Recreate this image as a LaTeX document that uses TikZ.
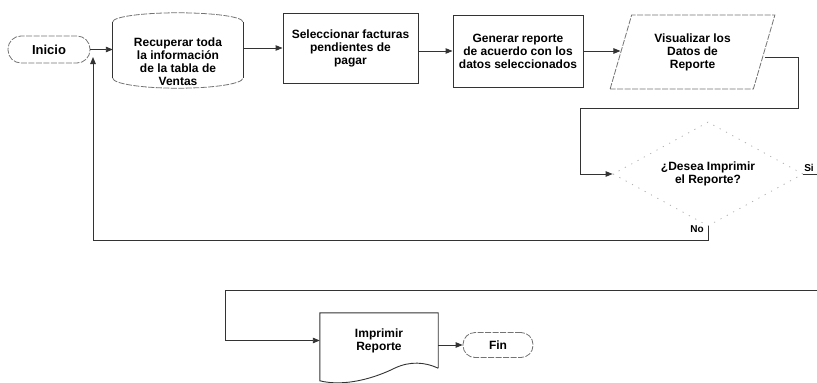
\documentclass[tikz,border=0pt]{standalone}
\usepackage{fontspec}
\setmainfont{Liberation Sans}
\usetikzlibrary{arrows.meta,shapes.geometric}
\begin{document}
\begin{tikzpicture}[x=1pt,y=-1pt,
  every node/.style={font=\bfseries\fontsize{12}{13}\selectfont, align=center, inner sep=0pt},
  small/.style={font=\bfseries\fontsize{10}{11}\selectfont},
  outline/.style={draw=black!80, line width=0.9pt},
  faint/.style={draw=black!55, line width=0.8pt, dash pattern=on 6pt off 1.5pt},
  faintdots/.style={draw=black!30, line width=0.8pt, dash pattern=on 1.2pt off 6pt},
  plainlink/.style={draw=black!80, line width=0.9pt},
  link/.style={plainlink, -{Triangle[length=7pt,width=5.5pt]}},
]
\useasboundingbox (0,0) rectangle (817,383);

% ---- top row ----
\node[faint, rounded corners=13pt, minimum width=82pt, minimum height=27pt] (inicio) at (49,49.5) {\fontsize{13}{14}\selectfont Inicio};

% database cylinder: body node for anchors, outline drawn by hand
\node[minimum width=130pt, minimum height=56pt] (recup) at (178,50) {};
\node (recuptext) at (178,62) {Recuperar toda\\la información\\de la tabla de\\Ventas};
\draw[outline] (recup.north west) -- (recup.south west) (recup.north east) -- (recup.south east);
\draw[faint] (recup.north west) arc[start angle=180, end angle=0, x radius=65pt, y radius=9pt];
\draw[faint] (recup.south west) arc[start angle=180, end angle=360, x radius=65pt, y radius=10pt];

\node[outline, minimum width=135pt, minimum height=70pt] (selec) at (350.5,48) {Seleccionar facturas\\pendientes de\\pagar};
\node[outline, minimum width=130pt, minimum height=72pt] (gener) at (518,51) {Generar reporte\\de acuerdo con los\\datos seleccionados};
\node[trapezium, trapezium left angle=70, trapezium right angle=110, trapezium stretches=true,
      faint, minimum width=165pt, minimum height=74pt] (visual) at (692.5,52) {Visualizar los\\Datos de\\Reporte};

% ---- decision ----
\node[diamond, shape aspect=1.9, faintdots, minimum width=190pt, minimum height=104pt] (pregunta) at (708,174) {¿Desea Imprimir\\el Reporte?};
\node[small] (si) at (809,168) {Si};
\node[small] (no) at (697,229) {No};

% ---- bottom row ----
\node[minimum width=118pt, minimum height=55pt] (imprimir) at (379,340.5) {Imprimir\\Reporte};
\draw[outline] (imprimir.south east) -- (imprimir.north east) -- (imprimir.north west) -- ++(0,68)
  .. controls (345,387) and (375,378) .. (395,368)
  .. controls (410,361) and (425,362) .. (imprimir.south east);
\node[faint, rounded corners=12pt, minimum width=70pt, minimum height=25pt] (fin) at (498,345) {Fin};

% ---- connectors ----
\coordinate (bendA) at (798,108);
\coordinate (bendB) at (580,108);
\coordinate (siout) at (817,174);
\coordinate (siin) at (817,290);
\coordinate (bendC) at (225,290);
\coordinate (bendD) at (93,240);
\coordinate (retin) at (93,57);

\draw[link] (inicio.east) -- (inicio.east -| recup.west);
\draw[link] (selec.west -| recup.east) -- (selec.west);
\draw[link] (selec.east |- gener.west) -- (gener.west);
\draw[link] (gener.east) -- (gener.east -| visual.west);
\draw[link] ([yshift=-5pt]visual.east) -| (bendA) -- (bendB) |- (pregunta.west);
\draw[plainlink] (pregunta.east) -- (siout);
\draw[link] (pregunta.south) |- (bendD) -- (retin);
\draw[link] (siin) -- (bendC) |- (imprimir.west);
\draw[link] (imprimir.east |- fin.west) -- (fin.west);
\end{tikzpicture}
\end{document}
